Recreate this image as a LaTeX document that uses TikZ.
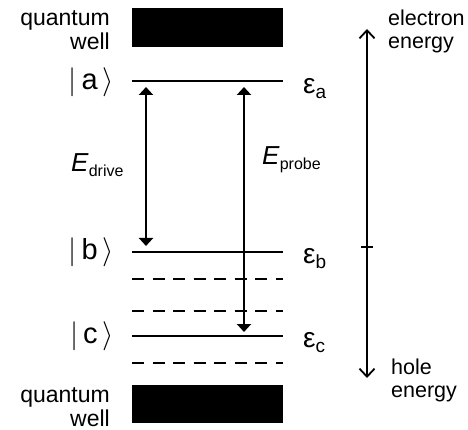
\RequirePackage{fix-cm}
\documentclass[tikz,border=0pt]{standalone}
\usepackage{fontspec}
\setmainfont{Liberation Sans}
\usetikzlibrary{arrows.meta}
\begin{document}
\begin{tikzpicture}[x=1pt, y=-1pt, every node/.style={inner sep=0pt}]
  \tikzstyle{lvl}=[line width=2.8pt]
  \tikzstyle{virt}=[line width=2.8pt, dash pattern=on 12pt off 8.5pt]
  \tikzstyle{trans}=[line width=2pt, {Triangle[width=14pt,length=8pt]}-{Triangle[width=14pt,length=8pt]}]
  \tikzstyle{ax}=[line width=1.8pt, {Straight Barb[width=15pt,length=8pt,line width=1.8pt]}-{Straight Barb[width=15pt,length=8pt,line width=1.8pt]}]
  \tikzstyle{lbl}=[font=\fontsize{23}{24}\selectfont]
  \tikzstyle{axlbl}=[font=\fontsize{21.5}{23}\selectfont]
  \tikzstyle{ket}=[font=\fontsize{29}{29}\selectfont, anchor=east]
  \tikzstyle{eps}=[font=\fontsize{28}{28}\selectfont, anchor=west]
  \useasboundingbox (0,0) rectangle (468,430);
  % quantum wells
  \node[fill=black, minimum width=151pt, minimum height=39pt, anchor=north west] (qwtop) at (132,8) {};
  \node[fill=black, minimum width=151pt, minimum height=38pt, anchor=north west] (qwbot) at (132,385) {};
  \node[lbl, align=right, anchor=east] (qwtoplbl) at (110,30) {quantum\\well};
  \node[lbl, align=right, anchor=east] (qwbotlbl) at (110,407) {quantum\\well};
  % levels
  \coordinate (a1) at (132,81);  \coordinate (a2) at (283,81);
  \coordinate (b1) at (132,252); \coordinate (b2) at (283,252);
  \coordinate (c1) at (132,336); \coordinate (c2) at (283,336);
  \coordinate (v1) at (132,279); \coordinate (v2) at (283,279);
  \coordinate (w1) at (132,311); \coordinate (w2) at (283,311);
  \coordinate (u1) at (132,363); \coordinate (u2) at (283,363);
  \draw[lvl] (a1) -- (a2);
  \draw[lvl] (b1) -- (b2);
  \draw[lvl] (c1) -- (c2);
  \draw[virt] (v1) -- (v2);
  \draw[virt] (w1) -- (w2);
  \draw[virt] (u1) -- (u2);
  \node[ket] (keta) at (114,82) {$|$\,a\,$\rangle$};
  \node[ket] (ketb) at (114,252) {$|$\,b\,$\rangle$};
  \node[ket] (ketc) at (114,336) {$|$\,c\,$\rangle$};
  \node[eps] (epsa) at (303,89) {ε\raisebox{-5pt}{\fontsize{19}{19}\selectfont a}};
  \node[eps] (epsb) at (303,259) {ε\raisebox{-5pt}{\fontsize{19}{19}\selectfont b}};
  \node[eps] (epsc) at (303,343) {ε\raisebox{-5pt}{\fontsize{19}{19}\selectfont c}};
  % transitions
  \coordinate (d1) at (146,87);  \coordinate (d2) at (146,246);
  \coordinate (p1) at (244,87);  \coordinate (p2) at (244,332);
  \draw[trans] (d1) -- (d2);
  \draw[trans] (p1) -- (p2);
  \node[anchor=base west] (edrive) at (71,172) {\fontsize{26}{26}\selectfont\textit{E}\raisebox{-5pt}{\fontsize{16}{16}\selectfont drive}};
  \node[anchor=base west] (eprobe) at (262,165) {\fontsize{26}{26}\selectfont\textit{E}\raisebox{-5pt}{\fontsize{16}{16}\selectfont probe}};
  % energy axis
  \coordinate (top) at (367,29);
  \coordinate (bot) at (367,378);
  \coordinate (mid) at (367,247);
  \draw[ax] (top) -- (bot);
  \draw[line width=1.8pt] ([xshift=-6pt]mid) -- ([xshift=6pt]mid);
  \node[axlbl, align=left, anchor=west] (elbl) at (388,31) {electron\\energy};
  \node[axlbl, align=left, anchor=west] (hlbl) at (391,380) {hole\\energy};
\end{tikzpicture}
\end{document}
